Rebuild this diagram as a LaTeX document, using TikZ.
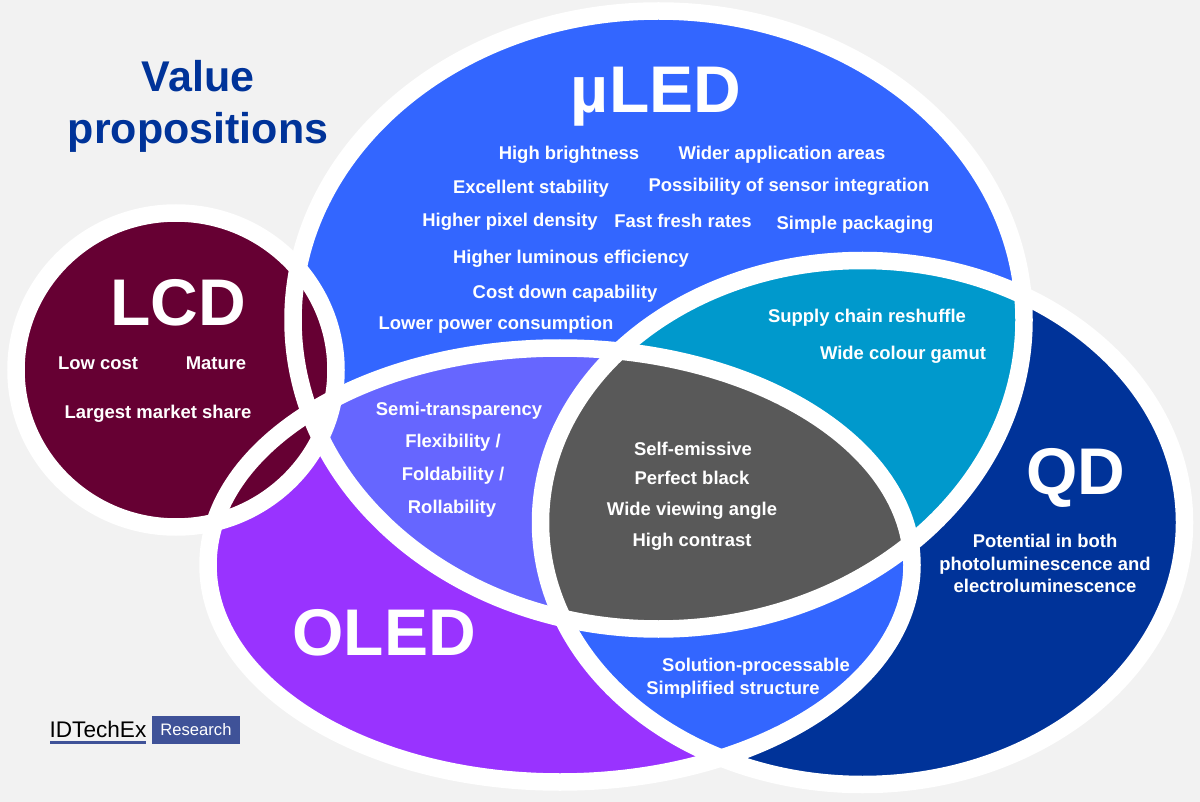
\documentclass[tikz,border=0pt]{standalone}
\usepackage{fontspec}
\setmainfont{Liberation Sans}
\usepackage{xcolor}
\definecolor{vnback}{RGB}{242,242,242}
\definecolor{vnled}{RGB}{51,102,255}
\definecolor{vnoled}{RGB}{153,51,255}
\definecolor{vnqd}{RGB}{0,51,153}
\definecolor{vnlcd}{RGB}{102,0,51}
\definecolor{vnteal}{RGB}{0,153,204}
\definecolor{vnlilac}{RGB}{102,102,255}
\definecolor{vngray}{RGB}{89,89,89}
\definecolor{vnlogo}{RGB}{63,82,152}
\tikzstyle{item} = [font=\bfseries\fontsize{18.45}{22}\selectfont,text=white,text height=15pt,text depth=2pt,inner sep=0pt]
\tikzstyle{tech} = [font=\bfseries\fontsize{66}{70}\selectfont,text=white,text height=48pt,text depth=0pt,inner sep=0pt]
\tikzstyle{headline} = [font=\bfseries\fontsize{43}{52.5}\selectfont,text=vnqd,inner sep=0pt,align=center]
\tikzstyle{ring} = [draw=white,line width=17.5pt]
\newcommand{\ledshape}{(658.5,320) ellipse [x radius=365.5,y radius=309]}
\newcommand{\oledshape}{(560,565) ellipse [x radius=352,y radius=217]}
\newcommand{\qdshape}{(862.5,522.5) ellipse [x radius=322,y radius=262]}
\newcommand{\lcdshape}{(176,370) ellipse [x radius=160,y radius=157]}
\begin{document}
\begin{tikzpicture}[x=1pt,y=-1pt]
\useasboundingbox (0,0) rectangle (1200,802);
\fill[vnback] (0,0) rectangle (1200,802);

% Single regions
\fill[vnled] \ledshape;
\fill[vnoled] \oledshape;
\fill[vnqd] \qdshape;

% Overlaps
\begin{scope}
\clip \ledshape;
\fill[vnlilac] \oledshape;
\fill[vnteal] \qdshape;
\end{scope}
\begin{scope}
\clip \oledshape;
\clip \qdshape;
\fill[vnled] (0,0) rectangle (1200,802);
\clip \ledshape;
\fill[vngray] (0,0) rectangle (1200,802);
\end{scope}
\fill[vnlcd] \lcdshape;

% White outlines
\draw[ring] \ledshape;
\draw[ring] \oledshape;
\draw[ring] \qdshape;
\draw[ring] \lcdshape;

% Title
\node[headline] (title) at (198,106.5) {Value\\propositions};

% Labels
\node[tech] (led) at (656,89) {µLED};
\node[tech] (lcd) at (178,301.5) {LCD};
\node[tech] (qd) at (1076,470) {QD};
\node[tech] (oled) at (384,631) {OLED};

\node[item] (brightness) at (569,153) {High brightness};
\node[item] (areas) at (782,153) {Wider application areas};
\node[item] (stability) at (531,187) {Excellent stability};
\node[item] (sensor) at (789,185) {Possibility of sensor integration};
\node[item] (density) at (510,220) {Higher pixel density};
\node[item] (rates) at (683,221) {Fast fresh rates};
\node[item] (packaging) at (855,223) {Simple packaging};
\node[item] (efficiency) at (571,257) {Higher luminous efficiency};
\node[item] (costdown) at (565,292) {Cost down capability};
\node[item] (power) at (496,323) {Lower power consumption};

\node[item] (lowcost) at (98,363) {Low cost};
\node[item] (mature) at (216,363) {Mature};
\node[item] (share) at (158,412) {Largest market share};

\node[item] (supply) at (867,316) {Supply chain reshuffle};
\node[item] (gamut) at (903,353) {Wide colour gamut};

\node[item] (semi) at (459,409) {Semi-transparency};
\node[item] (flex) at (453,441) {Flexibility /};
\node[item] (fold) at (453,474) {Foldability /};
\node[item] (roll) at (452,507) {Rollability};

\node[item] (emissive) at (693,449) {Self-emissive};
\node[item] (black) at (692,478) {Perfect black};
\node[item] (viewing) at (692,509) {Wide viewing angle};
\node[item] (contrast) at (692,540) {High contrast};

\node[item] (potential) at (1045,541) {Potential in both};
\node[item] (photo) at (1045,564) {photoluminescence and};
\node[item] (electro) at (1045,586) {electroluminescence};

\node[item] (solution) at (756,665) {Solution-processable};
\node[item] (simplified) at (733,688) {Simplified structure};

% Logo
\node[font=\fontsize{22.6}{24}\selectfont,text=black,inner sep=0pt] (logotext) at (98,729) {IDTechEx};
\fill[vnlogo] (50,741) rectangle (146,744);
\node[fill=vnlogo,text=white,font=\fontsize{16.6}{20}\selectfont,minimum width=88pt,minimum height=28pt,inner sep=0pt] (logobox) at (196,730) {Research};
\end{tikzpicture}
\end{document}
